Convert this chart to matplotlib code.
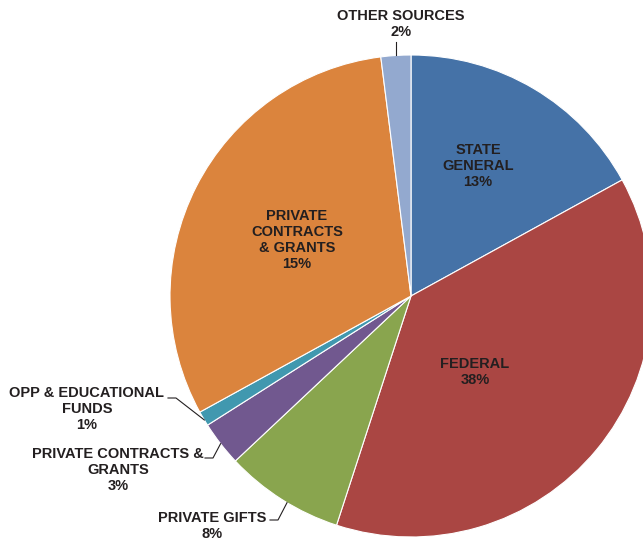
import numpy as np
import matplotlib.pyplot as plt

plt.rcParams['font.family'] = ['Liberation Sans', 'DejaVu Sans']

# funding sources, clockwise from the top
sources = ['STATE\nGENERAL', 'FEDERAL', 'PRIVATE GIFTS', 'PRIVATE CONTRACTS &\nGRANTS',
           'OPP & EDUCATIONAL\nFUNDS', 'PRIVATE\nCONTRACTS\n& GRANTS', 'OTHER SOURCES']
shares = [17, 38, 8, 3, 1, 31, 2]
pct_labels = ['13%', '38%', '8%', '3%', '1%', '15%', '2%']
colors = ['#4572A7', '#AA4643', '#89A54E', '#71588F', '#4198AF', '#DB843D', '#93A9CF']

W, H = 643, 544
cx, cy, R = 411, 296, 241  # pie centre / radius in pixels


def px(x, y):
    return (x - cx) / R, (cy - y) / R


fig = plt.figure(figsize=(W / 100, H / 100), dpi=100)
ax = fig.add_axes([0, 0, 1, 1])

wedges, _ = ax.pie(shares, colors=colors, startangle=90, counterclock=False,
                   radius=1, center=(0, 0), frame=True,
                   wedgeprops=dict(edgecolor='white', linewidth=0.8))
ax.set_xlim(-cx / R, (W - cx) / R)
ax.set_ylim(-(H - cy) / R, cy / R)
ax.set_aspect('auto')
ax.axis('off')

txt = dict(fontsize=10.5, fontweight='bold', color='#231F20',
           ha='center', va='center', linespacing=1.2)

# labels drawn inside the big slices
inside = {0: (478, 166), 1: (475, 372), 5: (297, 240)}
for i, (x, y) in inside.items():
    ax.text(*px(x, y), sources[i] + '\n' + pct_labels[i], **txt)

# outside labels: text centre, leader elbow, angle offset inside the wedge
outside = {
    6: ((401, 24), (399, 42), 0.5),
    4: ((87, 409), (176, 398), 0.6),
    3: ((118, 470), (213, 458), 0.5),
    2: ((212, 526), (278, 520), 0.55),
}
for i, ((tx, ty), (ex, ey), f) in outside.items():
    ax.text(*px(tx, ty), sources[i] + '\n' + pct_labels[i], **txt)
    w = wedges[i]
    ang = np.deg2rad(w.theta1 + f * (w.theta2 - w.theta1))
    ax0, ay0 = np.cos(ang), np.sin(ang)
    exd, eyd = px(ex, ey)
    if i == 6:
        ax.plot([ax0, ax0], [eyd, ay0], color='#231F20', lw=0.8)
    else:
        ax.plot([exd - 8 / R, exd, ax0], [eyd, eyd, ay0], color='#231F20', lw=0.8)

fig.savefig('out.png', dpi=100, facecolor='white')
